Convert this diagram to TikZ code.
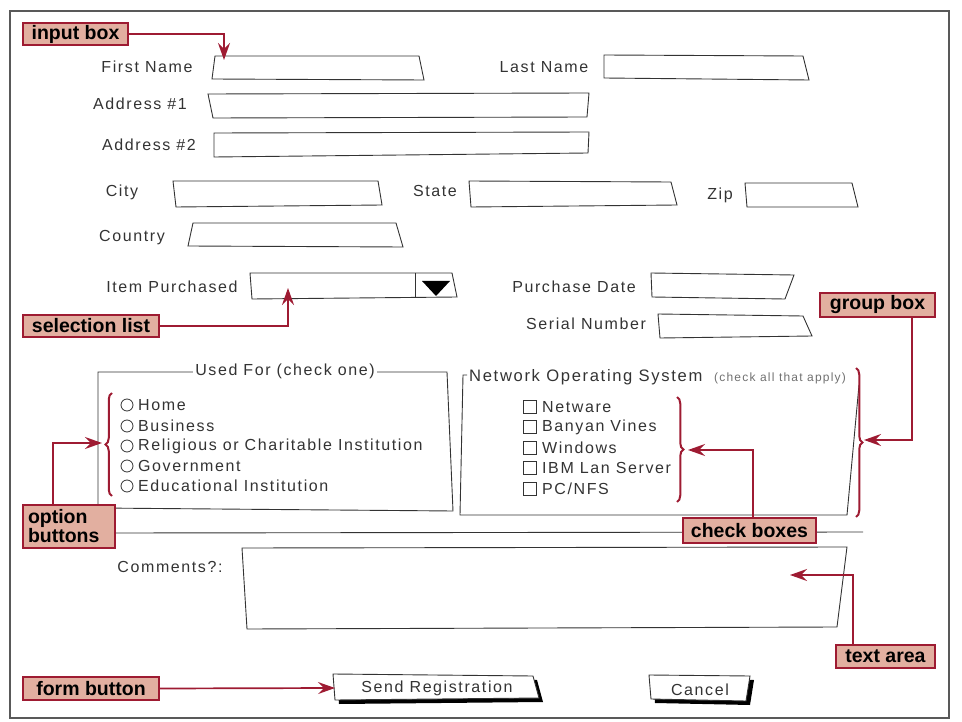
\documentclass[tikz,border=0pt]{standalone}
\usepackage{fontspec}
\setmainfont{Liberation Sans}
\newfontfamily\hand[LetterSpace=10]{Liberation Sans}
\newfontfamily\callfont{Liberation Sans}
\usetikzlibrary{arrows.meta,decorations.pathreplacing,calc}
\definecolor{cred}{HTML}{9E1B32}
\definecolor{cfill}{HTML}{E2AFA0}
\definecolor{ink}{HTML}{333333}
\begin{document}
\begin{tikzpicture}[x=1pt,y=-1pt,
  fld/.style={draw=ink, line width=0.9pt, fill=white},
  lbl/.style={font=\hand\fontsize{16}{18}\selectfont, text=ink, inner sep=0pt},
  small/.style={font=\hand\fontsize{12}{14}\selectfont, text=ink!70, inner sep=0pt},
  call/.style={draw=cred, line width=1.8pt, fill=cfill, font=\callfont\bfseries\fontsize{19.5}{19}\selectfont, inner sep=0pt, text=black},
  carrow/.style={draw=cred, line width=1.7pt, -{Stealth[length=17pt,width=12pt,inset=6pt]}},
  rbrace/.style={draw=cred, line width=2pt, decorate, decoration={brace, amplitude=6.5pt}},
  radio/.style={draw=ink, line width=0.8pt},
  shadow/.style={fill=black}
]
\useasboundingbox (0,0) rectangle (962,722);
\draw[gray!70!black, line width=1.2pt] (10,11) rectangle (949,718);

% labels
\node[lbl] (lfn) at (147,67) {First Name};
\node[lbl] (lln) at (544,67) {Last Name};
\node[lbl] (la1) at (140,104) {Address \#1};
\node[lbl] (la2) at (149,145) {Address \#2};
\node[lbl] (lci) at (122,192) {City};
\node[lbl] (lst) at (435,191) {State};
\node[lbl] (lzi) at (720,195) {Zip};
\node[lbl] (lco) at (132,238) {Country};
\node[lbl] (lip) at (172,287) {Item Purchased};
\node[lbl] (lpd) at (574,287) {Purchase Date};
\node[lbl] (lsn) at (586,324) {Serial Number};
\node[lbl] (lcm) at (170,567) {Comments?:};

% fields
\draw[fld] (215,56) -- (419,56) -- (424,80) -- (212,79) -- cycle;
\draw[fld] (604,55) -- (803,56) -- (809,80) -- (604,78) -- cycle;
\draw[fld] (208,94) -- (589,93) -- (587,117) -- (213,118) -- cycle;
\draw[fld] (214,133) -- (589,132) -- (588,153) -- (214,157) -- cycle;
\draw[fld] (173,181) -- (378,181) -- (382,205) -- (176,207) -- cycle;
\draw[fld] (469,181) -- (671,182) -- (677,205) -- (471,207) -- cycle;
\draw[fld] (745,183) -- (852,183) -- (858,207) -- (747,207) -- cycle;
\draw[fld] (193,223) -- (396,223) -- (403,247) -- (188,246) -- cycle;
\draw[fld] (250,273) -- (452,273) -- (457,297) -- (252,299) -- cycle;
\draw[ink, line width=0.9pt] (415,273) -- (415,298);
\fill[black] (422,281) -- (450,281) -- (436,296) -- cycle;
\draw[fld] (651,273) -- (794,275) -- (785,299) -- (652,297) -- cycle;
\draw[fld] (658,314) -- (803,316) -- (812,336) -- (660,338) -- cycle;

% Used For group
\draw[fld] (98,372) -- (447,372) -- (453,511) -- (98,508) -- cycle;
\node[lbl, fill=white, inner xsep=2pt] (tuf) at (285,371) {Used For (check one)};
\foreach \yy/\tx [count=\i] in {405/Home,426/Business,446/Religious or Charitable Institution,466/Government,486/Educational Institution}{
  \draw[radio] (127,\yy) circle (6pt);
  \node[lbl, anchor=west] (r\i) at (138,\yy) {\tx};
}

% Network group
\draw[ink, line width=0.9pt] (467,375) -- (463,375) -- (460,515) -- (847,515) -- (859,385);
\node[lbl, anchor=west, font=\hand\fontsize{16.6}{18}\selectfont] (tnw) at (469,377) {Network Operating System};
\node[small, anchor=west] (tnw2) at (714,378) {(check all that apply)};
\foreach \yy/\tx [count=\i] in {407/Netware,427/Banyan Vines,448/Windows,468/IBM Lan Server,489/{PC/NFS}}{
  \draw[radio] (523.5,\yy-6.5) rectangle (536.5,\yy+6.5);
  \node[lbl, anchor=west] (k\i) at (542,\yy) {\tx};
}

% separator
\draw[ink, line width=0.9pt] (115,533) -- (863,532);

% text area
\draw[fld] (242,548) -- (847,547) -- (837,627) -- (247,629) -- cycle;

% buttons
\fill[shadow] (337,678) -- (537,680) -- (543,702) -- (339,704) -- cycle;
\draw[fld] (333,674) -- (533,676) -- (539,698) -- (335,700) -- cycle;
\node[lbl] (bsend) at (437,688) {Send Registration};
\fill[shadow] (653,679) -- (754,680) -- (750,705) -- (655,703) -- cycle;
\draw[fld] (649,675) -- (750,676) -- (746,701) -- (651,699) -- cycle;
\node[lbl] (bcan) at (700,690) {Cancel};

% braces
\draw[rbrace] (112,496) -- (112,393);
\draw[rbrace] (677,397) -- (677,502);
\draw[rbrace] (856,368) -- (856,517);

% callouts
\node[call, minimum width=105pt, minimum height=22pt] (cin) at (75.5,34) {input box};
\node[call, minimum width=136pt, minimum height=22pt] (csl) at (91,326) {selection list};
\node[call, minimum width=115pt, minimum height=24pt] (cgb) at (877.5,305) {group box};
\node[call, minimum width=92pt, minimum height=43pt, text width=82pt, align=left] (cob) at (69,526.5) {option\\buttons};
\node[call, minimum width=133pt, minimum height=25pt] (ccb) at (749.5,530.5) {check boxes};
\node[call, minimum width=99pt, minimum height=23pt] (cta) at (885.5,656.5) {text area};
\node[call, minimum width=136pt, minimum height=23pt] (cfb) at (91,688.5) {form button};

\coordinate (tin) at (224,60);
\coordinate (tsl) at (288,288);
\coordinate (tgb) at (864,440);
\coordinate (tob) at (102,443);
\coordinate (tcb) at (688,450);
\coordinate (tta) at (790,575);
\coordinate (tfb) at (335,688);

\draw[carrow] (cin.east) -| (tin);
\draw[carrow] (csl.east) -| (tsl);
\draw[carrow] ([xshift=34.5pt]cgb.south) |- (tgb);
\draw[carrow] ([xshift=-16pt]cob.north) |- (tob);
\draw[carrow] ([xshift=3.5pt]ccb.north) |- (tcb);
\draw[carrow] ([xshift=-32.5pt]cta.north) |- (tta);
\draw[carrow] (cfb.east) -- (tfb);
\end{tikzpicture}
\end{document}
